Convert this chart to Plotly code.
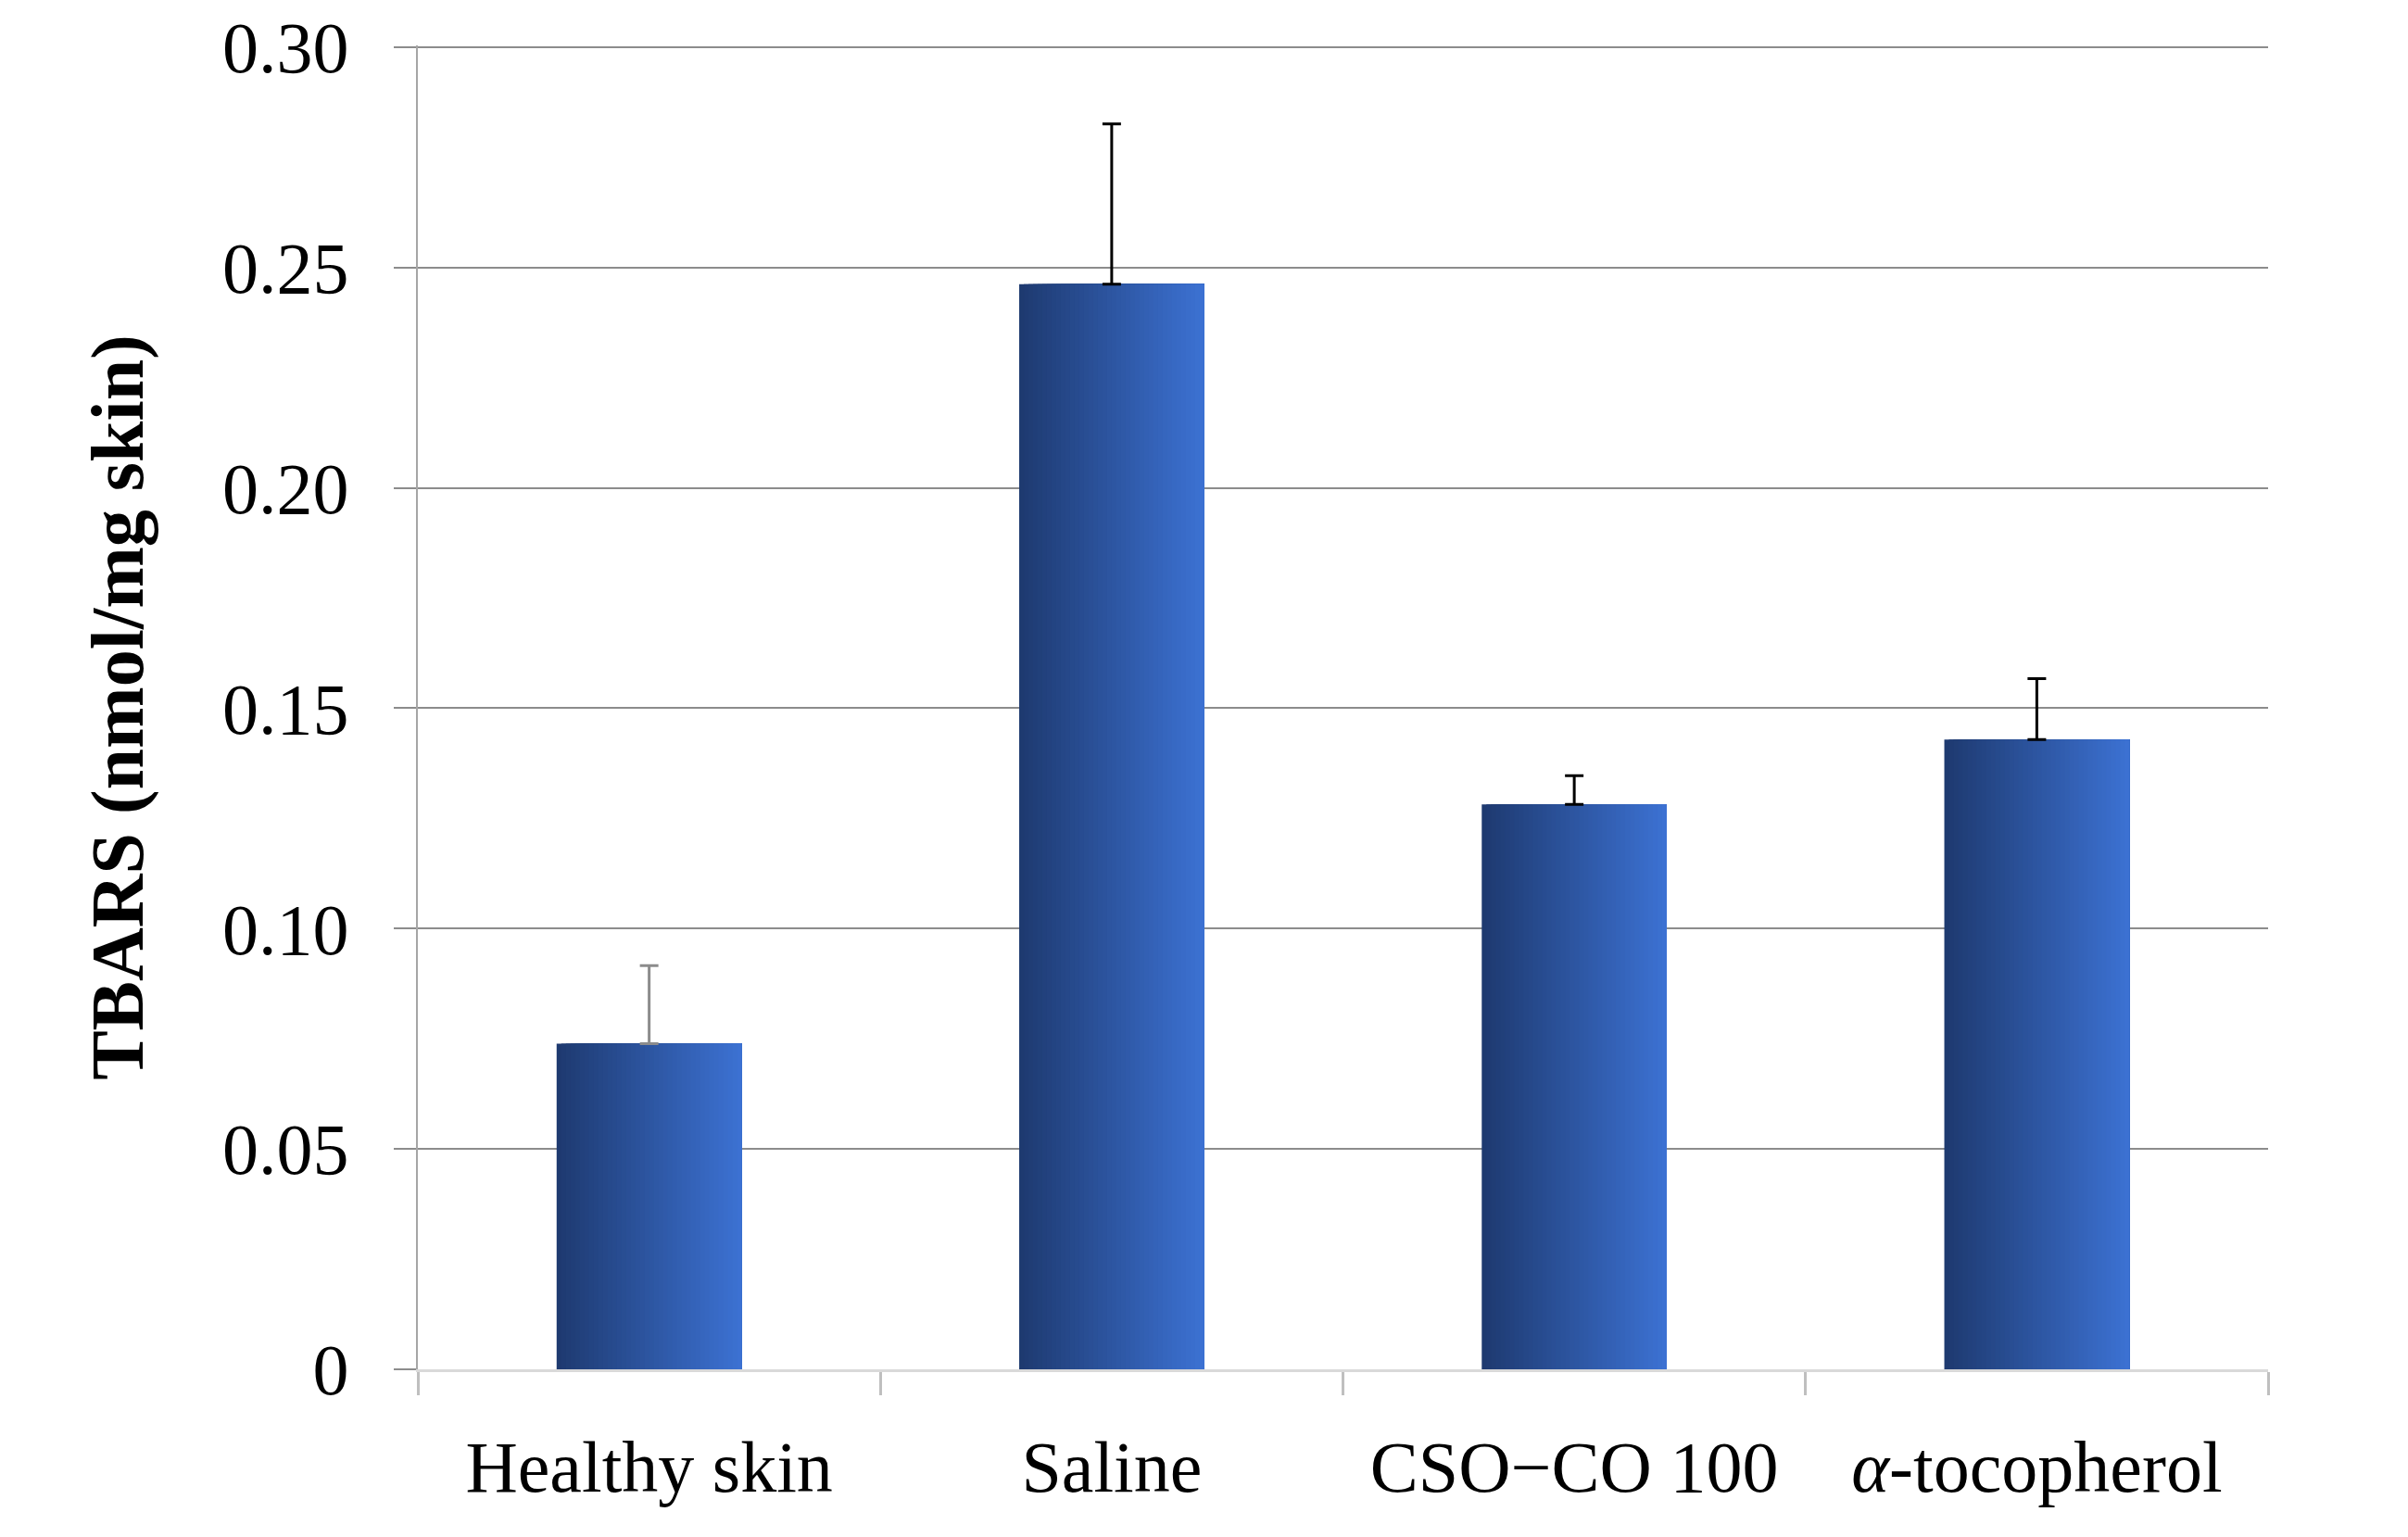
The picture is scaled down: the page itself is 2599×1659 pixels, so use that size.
import plotly.graph_objects as go

categories = ["Healthy skin", "Saline", "CSO\u2212CO 100", "<i>\u03b1</i>-tocopherol"]
values = [0.0739, 0.2462, 0.1282, 0.1429]
err_plus = [0.0177, 0.0364, 0.0065, 0.0138]
y_ticks = [0, 0.05, 0.10, 0.15, 0.20, 0.25, 0.30]
y_tick_labels = ["0", "0.05", "0.10", "0.15", "0.20", "0.25", "0.30"]

FONT = "Liberation Serif"
bar_width = 0.40
n_slices = 40
c0 = (30, 58, 112)
c1 = (60, 113, 210)

fig = go.Figure()
step = bar_width / n_slices
for i in range(n_slices):
    t = i / (n_slices - 1)
    col = "rgb(%d,%d,%d)" % tuple(round(a + (b - a) * t) for a, b in zip(c0, c1))
    fig.add_trace(go.Bar(
        x=categories, y=values,
        offset=-bar_width / 2 + i * step,
        width=bar_width - i * step,
        marker=dict(color=col, line=dict(width=0)),
        showlegend=False, hoverinfo="skip",
    ))

# error bars: first one grey stem in the reference, others black
err_colors = ["#8C8C8C", "black", "black", "black"]
for i in range(len(categories)):
    fig.add_trace(go.Scatter(
        x=[categories[i]], y=[values[i]], mode="markers",
        marker=dict(size=1, color="rgba(0,0,0,0)"),
        error_y=dict(type="data", array=[err_plus[i]], arrayminus=[0],
                     symmetric=False, color=err_colors[i], thickness=3, width=10),
        showlegend=False, hoverinfo="skip",
    ))

fig.update_layout(
    width=2583, height=1643,
    margin=dict(l=443, r=143, t=41, b=173, autoexpand=False),
    paper_bgcolor="white", plot_bgcolor="white",
    barmode="overlay",
    font=dict(family=FONT, size=78, color="black"),
    xaxis=dict(
        type="category", tickson="boundaries", automargin=False,
        ticks="outside", ticklen=25, tickwidth=3, tickcolor="#BFBFBF",
        showline=True, linecolor="#D9D9D9", linewidth=3,
        showgrid=False, tickfont=dict(family=FONT, size=78, color="black"),
        range=[-0.5, 3.5], ticklabelstandoff=35,
    ),
    yaxis=dict(
        range=[0, 0.3004], tickmode="array", tickvals=y_ticks, ticktext=y_tick_labels,
        automargin=False,
        ticks="outside", ticklen=24, tickwidth=2, tickcolor="#8C8C8C",
        showline=True, linecolor="#A6A6A6", linewidth=2,
        showgrid=True, gridcolor="#8C8C8C", gridwidth=2, zeroline=False,
        tickfont=dict(family=FONT, size=78, color="black"),
        ticklabelstandoff=33, ticklabeloverflow="allow",
        title=dict(text="<b>TBARS (nmol/mg skin)</b>", font=dict(family=FONT, size=80, color="black"),
                   standoff=59),
    ),
)

fig.write_html("out.html")
